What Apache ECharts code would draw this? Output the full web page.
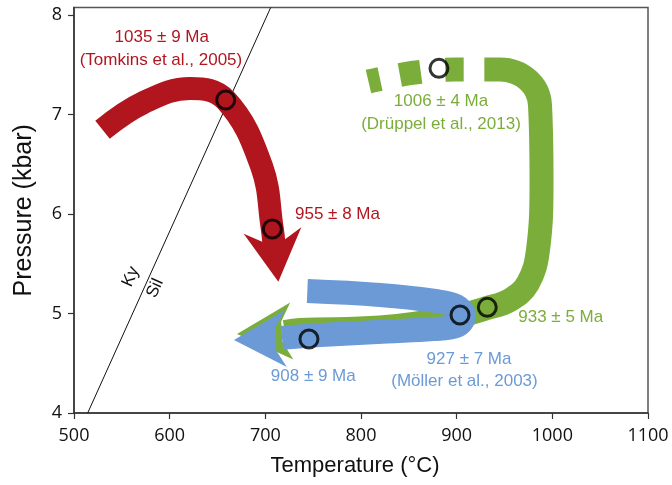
<!DOCTYPE html>
<html><head><meta charset="utf-8">
<script src="https://cdn.jsdelivr.net/npm/echarts@6/dist/echarts.min.js"></script>
<style>html,body{margin:0;padding:0;background:#fff}#c{width:672px;height:485px}</style>
</head><body><div id="c"></div>
<script>
// ---- axes ----
const xTicks = [500, 600, 700, 800, 900, 1000, 1100];
const yTicks = [4, 5, 6, 7, 8];

// ---- P-T paths (Temperature °C, Pressure kbar) ----
const redT = [529.8, 572.4, 621.3, 658.6, 696.2, 707.3, 709.1];
const redP = [6.847, 7.118, 7.261, 7.145, 6.475, 5.849, 5.688];
const redHead = [707.5, 5.834, 713.6, 5.32];   // base T, base P, tip T, tip P

const greenT = [807.8, 853.3, 898.3, 945.3, 974.6, 987.1, 988.7, 985.0, 974.6, 955.8, 931.7, 893.0, 819.9, 736.2, 720.6];
const greenP = [7.331, 7.417, 7.452, 7.452, 7.346, 7.095, 6.341, 5.638, 5.306, 5.136, 5.055, 4.955, 4.859, 4.834, 4.814];
const greenHead = [727.6, 4.824, 670.4, 4.794];

const blueT = [743.9, 819.9, 877.4, 899.3, 907.7, 899.3, 875.3, 827.2, 767.6, 727.9, 717.4];
const blueP = [5.226, 5.186, 5.126, 5.075, 4.975, 4.874, 4.844, 4.819, 4.789, 4.764, 4.754];
const blueHead = [721.6, 4.749, 667.2, 4.734];

// ---- dated points (circles) ----
const dateT = [658.6, 707.3, 881.5, 932.0, 903.5, 745.6];
const dateP = [7.145, 5.849, 7.464, 5.062, 4.985, 4.744];

// ---- Ky / Sil reaction line ----
const kySilT = [514.3, 705.6];
const kySilP = [4, 8.075];

// ---- annotations ----
const redNotes = ['1035 ± 9 Ma', '(Tomkins et al., 2005)', '955 ± 8 Ma'];
const redNoteT = [591.7, 590.9, 731.0];
const redNoteP = [7.774, 7.547, 5.995];
const greenNotes = ['1006 ± 4 Ma', '(Drüppel et al., 2013)', '933 ± 5 Ma'];
const greenNoteT = [883.6, 883.6, 964.4];
const greenNoteP = [7.128, 6.904, 4.965];
const blueNotes = ['927 ± 7 Ma', '(Möller et al., 2003)', '908 ± 9 Ma'];
const blueNoteT = [912.9, 908.2, 750.1];
const blueNoteP = [4.543, 4.322, 4.365];
const phaseNotes = ['Ky', 'Sil'];
const phaseNoteT = [559.3, 584.7];
const phaseNoteP = [5.370, 5.253];

// ---- styles ----
const RED = '#B1161F', GREEN = '#7BAD3B', BLUE = '#6B9AD6';
const noteFont = '17px "Liberation Sans", Arial, sans-serif';

function zip(a, b) { return a.map((v, i) => [v, b[i]]); }

function pathSeries(T, P, color, width, z, dash) {
  return {
    type: 'line', data: zip(T, P), z: z, smooth: 0.4, symbol: 'none', silent: true,
    lineStyle: { color: color, width: width, cap: 'butt', join: 'round', type: dash || 'solid' }
  };
}

function headSeries(h, color, halfW, shaftW, notch, z) {
  return {
    type: 'custom', coordinateSystem: 'cartesian2d', z: z, silent: true,
    data: [h],
    renderItem: function (params, api) {
      const b = api.coord([api.value(0), api.value(1)]);
      const t = api.coord([api.value(2), api.value(3)]);
      const dx = t[0] - b[0], dy = t[1] - b[1], L = Math.hypot(dx, dy);
      const ux = dx / L, uy = dy / L, nx = -uy, ny = ux;
      const pts = [
        t,
        [b[0] + nx * halfW, b[1] + ny * halfW],
        [b[0] + ux * notch + nx * shaftW / 2, b[1] + uy * notch + ny * shaftW / 2],
        [b[0] + ux * notch - nx * shaftW / 2, b[1] + uy * notch - ny * shaftW / 2],
        [b[0] - nx * halfW, b[1] - ny * halfW]
      ];
      return { type: 'polygon', shape: { points: pts }, style: { fill: color } };
    }
  };
}

function noteSeries(texts, T, P, color, aligns, rotation, z) {
  return {
    type: 'custom', coordinateSystem: 'cartesian2d', z: z, silent: true,
    data: T.map((t, i) => [t, P[i], i]),
    renderItem: function (params, api) {
      const p = api.coord([api.value(0), api.value(1)]);
      const i = api.value(2);
      return {
        type: 'text', x: p[0], y: p[1], rotation: rotation || 0,
        style: { text: texts[i], fill: color, font: noteFont, align: aligns[i], verticalAlign: 'middle' }
      };
    }
  };
}

const chart = echarts.init(document.getElementById('c'), null, { renderer: 'canvas' });
chart.setOption({
  animation: false,
  backgroundColor: '#fff',
  grid: { left: 74, right: 24, top: 7.5, bottom: 72, show: true, borderColor: '#555', borderWidth: 1.5, outerBoundsMode: 'none', containLabel: false },
  xAxis: {
    type: 'value', min: xTicks[0], max: xTicks[xTicks.length - 1], interval: 100,
    name: 'Temperature (°C)', nameLocation: 'middle', nameGap: 42,
    nameTextStyle: { fontSize: 22, color: '#111', fontFamily: 'Liberation Sans', padding: [0, 12, 0, 0] },
    axisLine: { lineStyle: { color: '#333', width: 1.5 } },
    axisTick: { length: 6, lineStyle: { color: '#333', width: 1.2 } },
    axisLabel: { fontSize: 18, color: '#111', margin: 14, fontFamily: 'Open Sans', formatter: v => String(v) },
    splitLine: { show: false }
  },
  yAxis: {
    type: 'value', min: yTicks[0], max: 8.075, interval: 1,
    name: 'Pressure (kbar)', nameLocation: 'middle', nameGap: 37, nameRotate: 90,
    nameTextStyle: { fontSize: 25, color: '#111', fontFamily: 'Liberation Sans' },
    axisLine: { lineStyle: { color: '#333', width: 1.5 } },
    axisTick: { length: 6, customValues: yTicks, lineStyle: { color: '#333', width: 1.2 } },
    axisLabel: { fontSize: 18, color: '#111', margin: 12, fontFamily: 'Open Sans', customValues: yTicks, formatter: v => String(v) },
    splitLine: { show: false }
  },
  series: [
    { type: 'line', data: zip(kySilT, kySilP), z: 1, symbol: 'none', silent: true,
      lineStyle: { color: '#111', width: 1 } },
    noteSeries(phaseNotes, phaseNoteT, phaseNoteP, '#111', ['center', 'center'], 65.7 * Math.PI / 180, 1),
    pathSeries(redT, redP, RED, 23, 2),
    headSeries(redHead, RED, 29, 23, 10, 3),
    pathSeries(greenT, greenP, GREEN, 24, 4, [12, 20, 21, 25, 18, 21, 5000, 1]),
    headSeries(greenHead, GREEN, 28.6, 20, 10, 5),
    pathSeries(blueT, blueP, BLUE, 24, 6),
    headSeries(blueHead, BLUE, 28.5, 24, 10, 7),
    { type: 'scatter', data: zip(dateT, dateP), z: 10, symbol: 'circle', symbolSize: 18, silent: true,
      itemStyle: { color: 'rgba(0,0,0,0)', borderColor: '#000', borderWidth: 3 } },
    noteSeries(redNotes, redNoteT, redNoteP, RED, ['center', 'center', 'left'], 0, 11),
    noteSeries(greenNotes, greenNoteT, greenNoteP, GREEN, ['center', 'center', 'left'], 0, 11),
    noteSeries(blueNotes, blueNoteT, blueNoteP, BLUE, ['center', 'center', 'center'], 0, 11)
  ]
});
</script>
</body></html>
